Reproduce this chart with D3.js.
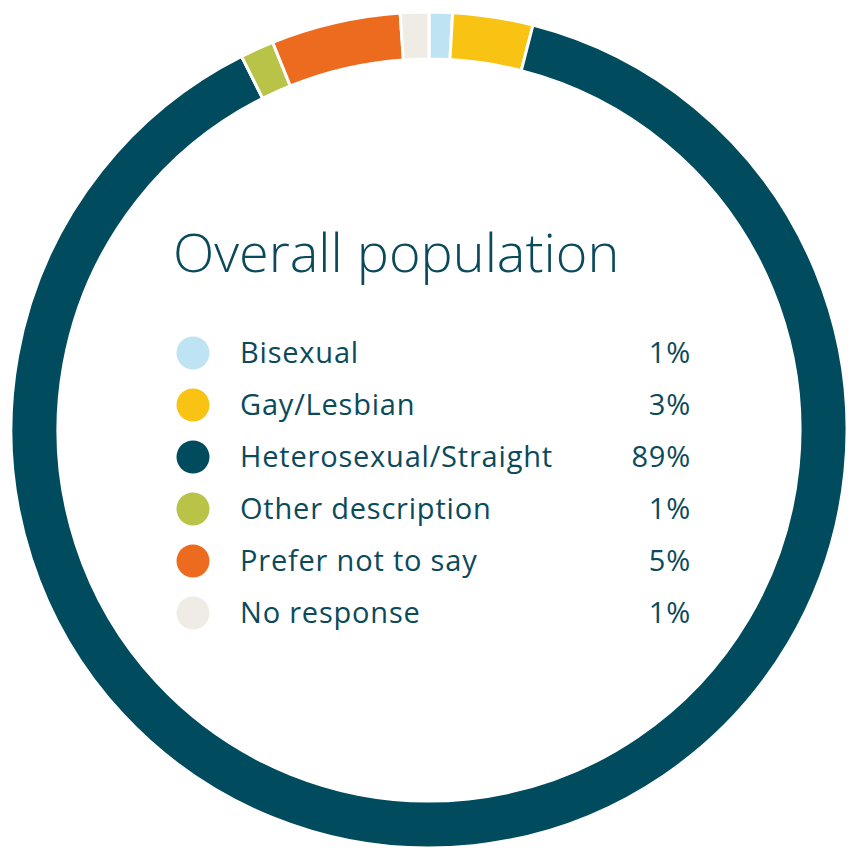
<!DOCTYPE html>
<html>
<head>
<meta charset="utf-8">
<script src="https://cdn.jsdelivr.net/npm/d3@7"></script>
<style>
    body { margin: 0; background: #ffffff; }
    text { font-family: 'Open Sans', sans-serif; fill: #0b4a5b; }
</style>
</head>
<body>
<div id="chart"></div>
<script>
// Chart data
let categories = ['Bisexual', 'Gay/Lesbian', 'Heterosexual/Straight', 'Other description', 'Prefer not to say', 'No response'];
let shares = [0.9, 3.1, 88.6, 1.3, 5.0, 1.1];
let percentLabels = ['1%', '3%', '89%', '1%', '5%', '1%'];
let colors = ['#bee3f2', '#f9c313', '#004b5e', '#b8c347', '#ec6b1f', '#efebe5'];
let title = 'Overall population';

let svgWidth = 848;
let svgHeight = 851;

let center = { x: 429, y: 430 };
let outerRadius = 418;
let innerRadius = 371;

let svg = d3.select('#chart')
    .append('svg')
    .attr('width', svgWidth)
    .attr('height', svgHeight);

// Donut ring
let ringGroup = svg.append('g')
    .attr('transform', `translate(${center.x}, ${center.y})`);

let pie = d3.pie()
    .sort(null)
    .value(d => d);

let arc = d3.arc()
    .innerRadius(innerRadius)
    .outerRadius(outerRadius);

ringGroup.selectAll('path')
    .data(pie(shares))
    .enter()
    .append('path')
    .attr('d', arc)
    .attr('fill', (d, i) => colors[i])
    .attr('stroke', '#ffffff')
    .attr('stroke-width', 3);

// Title
svg.append('text')
    .attr('x', 173)
    .attr('y', 272)
    .attr('font-size', 54)
    .attr('font-weight', 300)
    .text(title);

// Legend rows
let rowY = d3.scalePoint()
    .domain(categories)
    .range([353, 613]);

let legend = svg.append('g');

let rows = legend.selectAll('g')
    .data(categories)
    .enter()
    .append('g')
    .attr('transform', d => `translate(0, ${rowY(d)})`);

rows.append('circle')
    .attr('cx', 193)
    .attr('cy', 0)
    .attr('r', 16.5)
    .attr('fill', (d, i) => colors[i]);

rows.append('text')
    .attr('x', 240)
    .attr('dy', '0.35em')
    .attr('font-size', 29)
    .attr('letter-spacing', 0.8)
    .text(d => d);

rows.append('text')
    .attr('x', 691)
    .attr('dy', '0.35em')
    .attr('font-size', 29)
    .attr('letter-spacing', 0.8)
    .attr('text-anchor', 'end')
    .text((d, i) => percentLabels[i]);
</script>
</body>
</html>
